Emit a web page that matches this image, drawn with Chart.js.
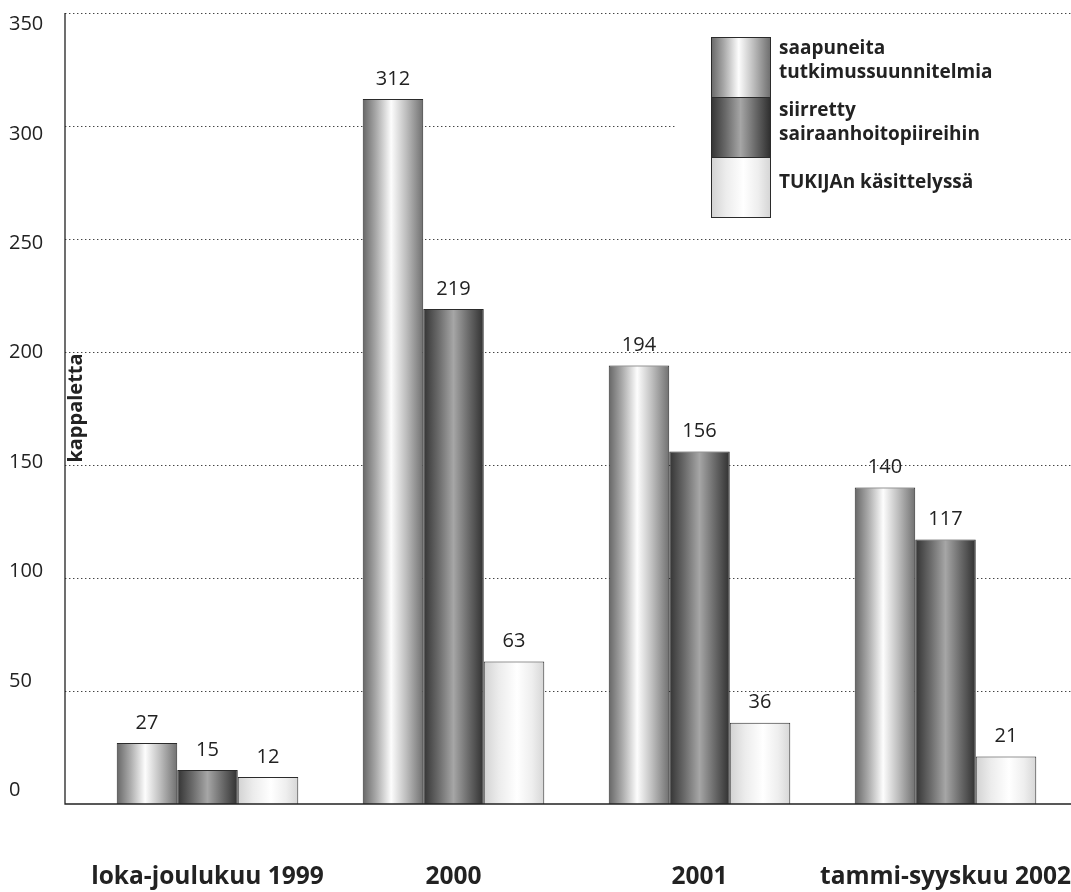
<!DOCTYPE html>
<html lang="fi">
<head>
<meta charset="utf-8">
<title>Tutkimussuunnitelmat</title>
<script src="https://cdn.jsdelivr.net/npm/chart.js@4/dist/chart.umd.min.js"></script>
<style>
  html, body { margin: 0; padding: 0; background: #fff; }
  #wrap { width: 1071px; height: 892px; position: relative; }
</style>
</head>
<body>
<div id="wrap"><canvas id="myChart"></canvas></div>
<script>
const categories = ['loka-joulukuu 1999', '2000', '2001', 'tammi-syyskuu 2002'];
const saapuneita = [27, 312, 194, 140];
const siirretty = [15, 219, 156, 117];
const kasittelyssa = [12, 63, 36, 21];
const seriesNames = [
    ['saapuneita', 'tutkimussuunnitelmia'],
    ['siirretty', 'sairaanhoitopiireihin'],
    ['TUKIJAn käsittelyssä']
];
const yTicks = [0, 50, 100, 150, 200, 250, 300, 350];
const yTitle = 'kappaletta';

// cylinder-like shading for each series (left -> right)
const shades = [
    [[0, '#666666'], [0.22, '#a9a9a9'], [0.47, '#fdfdfd'], [0.72, '#bdbdbd'], [1, '#707070']],
    [[0, '#333333'], [0.25, '#6a6a6a'], [0.5, '#a6a6a6'], [0.75, '#6a6a6a'], [1, '#303030']],
    [[0, '#d2d2d2'], [0.25, '#ececec'], [0.55, '#ffffff'], [0.8, '#eeeeee'], [1, '#d6d6d6']]
];

const ink = '#222222';
Chart.defaults.font.family = "'Open Sans', 'DejaVu Sans', sans-serif";
Chart.defaults.color = ink;

const gradientFor = (ctx, stops, x0, x1) => {
    const g = ctx.createLinearGradient(x0, 0, x1, 0);
    stops.forEach(([p, c]) => g.addColorStop(p, c));
    return g;
};

const barFill = stops => c => {
    const el = c.element;
    if (!el || !isFinite(el.x) || !el.width) return stops[2][1];
    return gradientFor(c.chart.ctx, stops, el.x - el.width / 2, el.x + el.width / 2);
};

const axisLeft = 65;

// dotted grid behind the bars, white patch behind the legend
const gridPlugin = {
    id: 'dottedGrid',
    beforeDatasetsDraw(chart) {
        const { ctx, scales: { y } } = chart;
        ctx.save();
        ctx.strokeStyle = '#444';
        ctx.lineWidth = 1.2;
        ctx.setLineDash([1.4, 2.6]);
        yTicks.filter(v => v > 0).forEach(v => {
            const py = Math.round(y.getPixelForValue(v)) + 0.5;
            ctx.beginPath();
            ctx.moveTo(axisLeft, py);
            ctx.lineTo(chart.width, py);
            ctx.stroke();
        });
        ctx.restore();
        ctx.fillStyle = '#fff';
        ctx.fillRect(675, 28, chart.width - 675, 200);
    }
};

const decorPlugin = {
    id: 'decor',
    afterDatasetsDraw(chart) {
        const { ctx, scales: { y } } = chart;
        ctx.save();

        // axis lines
        ctx.strokeStyle = ink;
        ctx.lineWidth = 1.3;
        const top = y.getPixelForValue(yTicks[yTicks.length - 1]);
        const base = y.getPixelForValue(0);
        ctx.beginPath();
        ctx.moveTo(axisLeft, top);
        ctx.lineTo(axisLeft, base);
        ctx.lineTo(chart.width, base);
        ctx.stroke();

        // value labels above bars
        ctx.fillStyle = ink;
        ctx.font = "20px 'Open Sans'";
        ctx.textAlign = 'center';
        ctx.textBaseline = 'middle';
        chart.data.datasets.forEach((ds, i) => {
            chart.getDatasetMeta(i).data.forEach((bar, j) => {
                ctx.fillText(String(ds.data[j]), bar.x, bar.y - 20);
            });
        });

        // y title inside the plot
        ctx.font = "bold 20px 'Open Sans'";
        ctx.translate(76, 408);
        ctx.rotate(-Math.PI / 2);
        ctx.fillText(yTitle, 0, 0);
        ctx.restore();

        // legend
        ctx.save();
        const boxX = 711, boxW = 59, rowH = 60, boxY = 37;
        const lineY = [[49, 73], [111, 135], [183]];
        chart.data.datasets.forEach((ds, i) => {
            const ry = boxY + i * rowH;
            ctx.fillStyle = gradientFor(ctx, shades[i], boxX, boxX + boxW);
            ctx.fillRect(boxX, ry, boxW, rowH);
            ctx.strokeStyle = '#2b2b2b';
            ctx.lineWidth = 1;
            ctx.strokeRect(boxX + 0.5, ry + 0.5, boxW, rowH);
            ctx.fillStyle = ink;
            ctx.font = "bold 19px 'Open Sans'";
            ctx.textAlign = 'left';
            ctx.textBaseline = 'middle';
            seriesNames[i].forEach((line, k) => ctx.fillText(line, 779, lineY[i][k]));
        });
        ctx.restore();
    }
};

const makeSet = (idx, values) => ({
    label: seriesNames[idx].join(' '),
    data: values,
    backgroundColor: barFill(shades[idx]),
    borderColor: '#2b2b2b',
    borderWidth: 1,
    borderSkipped: 'bottom',
    categoryPercentage: 0.738,
    barPercentage: 1,
    yAxisID: 'y'
});

const chart = new Chart(document.getElementById('myChart'), {
    type: 'bar',
    data: {
        labels: categories,
        datasets: [makeSet(0, saapuneita), makeSet(1, siirretty), makeSet(2, kasittelyssa)]
    },
    options: {
        responsive: true,
        maintainAspectRatio: false,
        animation: false,
        layout: { padding: { left: 9, right: 2.5, top: 13, bottom: 0 } },
        plugins: {
            legend: { display: false },
            tooltip: { enabled: false }
        },
        scales: {
            x: {
                grid: { display: false, drawTicks: false },
                border: { display: false },
                ticks: {
                    font: { size: 24.5, weight: 'bold' },
                    color: ink,
                    padding: 58,
                    maxRotation: 0,
                    autoSkip: false
                },
                // chart.js counts tick padding twice and also sideways; undo that
                afterFit: s => {
                    s.height = 88;
                    s.paddingLeft = 0;
                    s.paddingRight = 0;
                }
            },
            y: {
                display: false,
                min: 0,
                max: 350
            },
            yLabels: {
                position: 'left',
                min: -6.17,
                max: 355.25,
                grid: { display: false, drawTicks: false },
                border: { display: false },
                afterBuildTicks: s => { s.ticks = yTicks.map(v => ({ value: v })); },
                afterFit: s => { s.width = 75.5; },
                ticks: {
                    font: { size: 20 },
                    color: ink,
                    crossAlign: 'far',
                    padding: 0
                }
            }
        }
    },
    plugins: [gridPlugin, decorPlugin]
});
// second pass so the gradients know where each bar sits
chart.update();
</script>
</body>
</html>
